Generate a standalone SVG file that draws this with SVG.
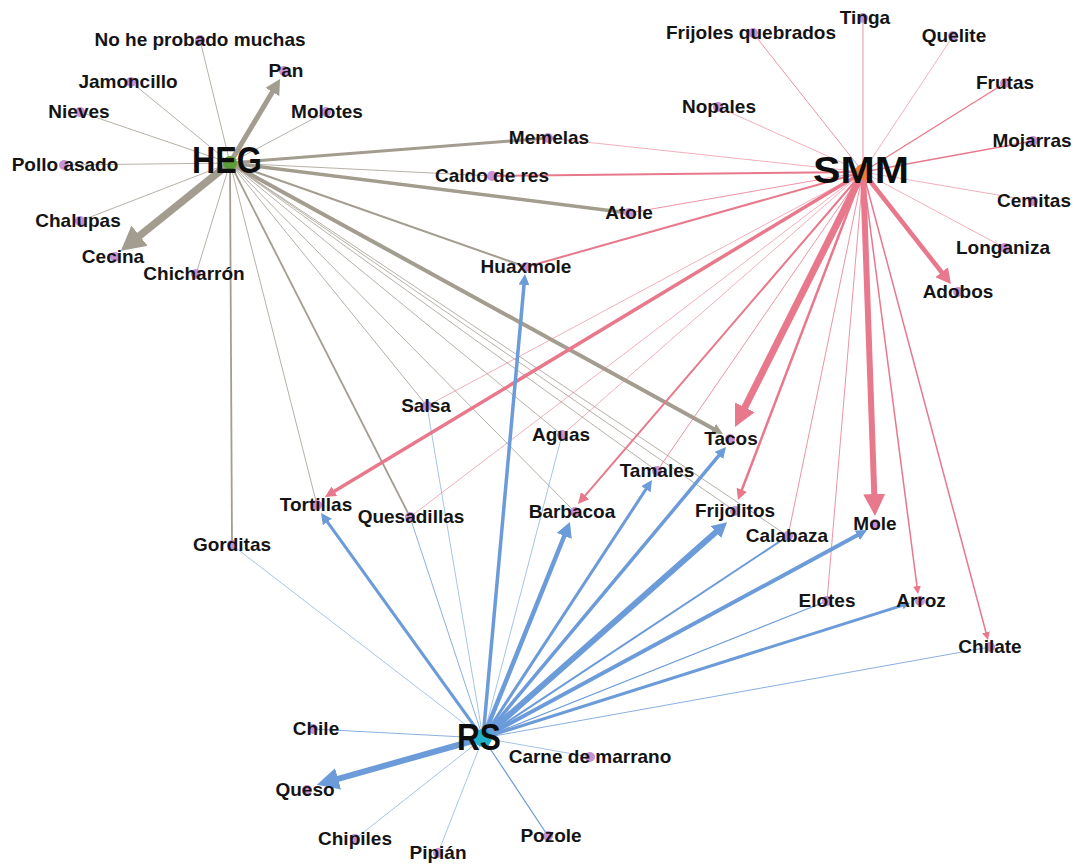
<svg xmlns="http://www.w3.org/2000/svg" width="1077" height="865" viewBox="0 0 1077 865">
<style>
.g{stroke:#a39d90;fill:none}
.p{stroke:#e8788b;fill:none}
.b{stroke:#6b9bd8;fill:none}
.t{font-family:"Liberation Sans",Arial,sans-serif;font-weight:bold;font-size:19px;fill:#141414;text-anchor:middle}
.h{font-family:"Liberation Sans",Arial,sans-serif;font-weight:bold;font-size:36px;fill:#0d0d0d;text-anchor:middle}
.d{fill:#c792d6}
</style>
<defs>
<marker id="gXL" markerUnits="userSpaceOnUse" viewBox="0 0 24 26" markerWidth="24" markerHeight="26" refX="1" refY="13" orient="auto"><path d="M0,0 L24,13 L0,26 z" fill="#a39d90"/></marker>
<marker id="gM" markerUnits="userSpaceOnUse" viewBox="0 0 15 16" markerWidth="15" markerHeight="16" refX="1" refY="8" orient="auto"><path d="M0,0 L15,8 L0,16 z" fill="#a39d90"/></marker>
<marker id="gS" markerUnits="userSpaceOnUse" viewBox="0 0 11 11" markerWidth="11" markerHeight="11" refX="1" refY="5.5" orient="auto"><path d="M0,0 L11,5.5 L0,11 z" fill="#a39d90"/></marker>
<marker id="pL" markerUnits="userSpaceOnUse" viewBox="0 0 22 22" markerWidth="22" markerHeight="22" refX="1" refY="11" orient="auto"><path d="M0,0 L22,11 L0,22 z" fill="#e8788b"/></marker>
<marker id="pM" markerUnits="userSpaceOnUse" viewBox="0 0 15 16" markerWidth="15" markerHeight="16" refX="1" refY="8" orient="auto"><path d="M0,0 L15,8 L0,16 z" fill="#e8788b"/></marker>
<marker id="pS" markerUnits="userSpaceOnUse" viewBox="0 0 11 11" markerWidth="11" markerHeight="11" refX="1" refY="5.5" orient="auto"><path d="M0,0 L11,5.5 L0,11 z" fill="#e8788b"/></marker>
<marker id="pXS" markerUnits="userSpaceOnUse" viewBox="0 0 8 8" markerWidth="8" markerHeight="8" refX="1" refY="4" orient="auto"><path d="M0,0 L8,4 L0,8 z" fill="#e8788b"/></marker>
<marker id="bL" markerUnits="userSpaceOnUse" viewBox="0 0 22 22" markerWidth="22" markerHeight="22" refX="1" refY="11" orient="auto"><path d="M0,0 L22,11 L0,22 z" fill="#6b9bd8"/></marker>
<marker id="bM" markerUnits="userSpaceOnUse" viewBox="0 0 15 16" markerWidth="15" markerHeight="16" refX="1" refY="8" orient="auto"><path d="M0,0 L15,8 L0,16 z" fill="#6b9bd8"/></marker>
<marker id="bS" markerUnits="userSpaceOnUse" viewBox="0 0 11 11" markerWidth="11" markerHeight="11" refX="1" refY="5.5" orient="auto"><path d="M0,0 L11,5.5 L0,11 z" fill="#6b9bd8"/></marker>
<marker id="bXS" markerUnits="userSpaceOnUse" viewBox="0 0 8 8" markerWidth="8" markerHeight="8" refX="1" refY="4" orient="auto"><path d="M0,0 L8,4 L0,8 z" fill="#6b9bd8"/></marker>
</defs>
<rect width="1077" height="865" fill="#ffffff"/>
<g id="connectors">
<!-- HEG -->
<line class="g" stroke-width="0.8" x1="230" y1="163" x2="200" y2="40"/>
<line class="g" stroke-width="0.8" x1="230" y1="163" x2="131" y2="82"/>
<line class="g" stroke-width="0.8" x1="230" y1="163" x2="80" y2="112"/>
<line class="g" stroke-width="0.8" x1="230" y1="163" x2="64" y2="165"/>
<line class="g" stroke-width="0.8" x1="230" y1="163" x2="80" y2="221"/>
<line class="g" stroke-width="0.8" x1="230" y1="163" x2="196" y2="274"/>
<line class="g" stroke-width="0.8" x1="230" y1="163" x2="326" y2="112"/>
<line class="g" stroke-width="3" x1="230" y1="163" x2="548" y2="138"/>
<line class="g" stroke-width="0.8" x1="230" y1="163" x2="492" y2="176"/>
<line class="g" stroke-width="3.5" x1="230" y1="163" x2="629" y2="213"/>
<line class="g" stroke-width="2" x1="230" y1="163" x2="526" y2="267"/>
<line class="g" stroke-width="1.8" x1="230" y1="163" x2="232" y2="545"/>
<line class="g" stroke-width="0.8" x1="230" y1="163" x2="317" y2="505"/>
<line class="g" stroke-width="1.8" x1="230" y1="163" x2="410" y2="517"/>
<line class="g" stroke-width="0.8" x1="230" y1="163" x2="427" y2="406"/>
<line class="g" stroke-width="0.8" x1="230" y1="163" x2="562" y2="435"/>
<line class="g" stroke-width="0.8" x1="230" y1="163" x2="575" y2="512"/>
<line class="g" stroke-width="0.8" x1="230" y1="163" x2="657" y2="471"/>
<line class="g" stroke-width="0.8" x1="230" y1="163" x2="735" y2="511"/>
<line class="g" stroke-width="0.8" x1="230" y1="163" x2="788" y2="536"/>
<line class="g" stroke-width="7.5" x1="230" y1="163" x2="138.8" y2="236.4" marker-end="url(#gXL)"/>
<line class="g" stroke-width="5" x1="230" y1="163" x2="272.9" y2="91.1" marker-end="url(#gM)"/>
<line class="g" stroke-width="4" x1="230" y1="163" x2="714.2" y2="429.2" marker-end="url(#gS)"/>
<!-- SMM -->
<line class="p" stroke-width="0.8" x1="863" y1="172" x2="753" y2="33"/>
<line class="p" stroke-width="0.8" x1="863" y1="172" x2="863" y2="18"/>
<line class="p" stroke-width="0.6" x1="863" y1="172" x2="953" y2="36"/>
<line class="p" stroke-width="1.3" x1="863" y1="172" x2="1005" y2="83"/>
<line class="p" stroke-width="1.3" x1="863" y1="172" x2="1033" y2="141"/>
<line class="p" stroke-width="0.6" x1="863" y1="172" x2="1033" y2="201"/>
<line class="p" stroke-width="0.6" x1="863" y1="172" x2="1005" y2="248"/>
<line class="p" stroke-width="0.6" x1="863" y1="172" x2="718" y2="107"/>
<line class="p" stroke-width="0.6" x1="863" y1="172" x2="548" y2="138"/>
<line class="p" stroke-width="2" x1="863" y1="172" x2="492" y2="176"/>
<line class="p" stroke-width="0.8" x1="863" y1="172" x2="629" y2="213"/>
<line class="p" stroke-width="2" x1="863" y1="172" x2="526" y2="267"/>
<line class="p" stroke-width="0.6" x1="863" y1="172" x2="427" y2="406"/>
<line class="p" stroke-width="0.6" x1="863" y1="172" x2="410" y2="517"/>
<line class="p" stroke-width="0.6" x1="863" y1="172" x2="562" y2="435"/>
<line class="p" stroke-width="0.8" x1="863" y1="172" x2="657" y2="471"/>
<line class="p" stroke-width="0.8" x1="863" y1="172" x2="788" y2="536"/>
<line class="p" stroke-width="0.8" x1="863" y1="172" x2="827" y2="601"/>
<line class="p" stroke-width="4.5" x1="863" y1="172" x2="942.3" y2="273" marker-end="url(#pM)"/>
<line class="p" stroke-width="7" x1="863" y1="172" x2="744.4" y2="408.2" marker-end="url(#pL)"/>
<line class="p" stroke-width="6" x1="863" y1="172" x2="874.3" y2="495" marker-end="url(#pL)"/>
<line class="p" stroke-width="3.5" x1="863" y1="172" x2="333.5" y2="491.8" marker-end="url(#pS)"/>
<line class="p" stroke-width="2" x1="863" y1="172" x2="584.5" y2="496.4" marker-end="url(#pS)"/>
<line class="p" stroke-width="2.5" x1="863" y1="172" x2="741.5" y2="490.7" marker-end="url(#pS)"/>
<line class="p" stroke-width="1.5" x1="863" y1="172" x2="917.1" y2="587.1" marker-end="url(#pXS)"/>
<line class="p" stroke-width="1.5" x1="863" y1="172" x2="986.2" y2="633.2" marker-end="url(#pXS)"/>
<!-- RS -->
<line class="b" stroke-width="0.8" x1="483" y1="738" x2="313" y2="729"/>
<line class="b" stroke-width="0.6" x1="483" y1="738" x2="355" y2="839"/>
<line class="b" stroke-width="0.6" x1="483" y1="738" x2="438" y2="853"/>
<line class="b" stroke-width="1.2" x1="483" y1="738" x2="548" y2="836"/>
<line class="b" stroke-width="0.6" x1="483" y1="738" x2="590" y2="757"/>
<line class="b" stroke-width="0.6" x1="483" y1="738" x2="232" y2="545"/>
<line class="b" stroke-width="0.8" x1="483" y1="738" x2="410" y2="517"/>
<line class="b" stroke-width="0.6" x1="483" y1="738" x2="427" y2="406"/>
<line class="b" stroke-width="0.6" x1="483" y1="738" x2="562" y2="435"/>
<line class="b" stroke-width="2" x1="483" y1="738" x2="788" y2="536"/>
<line class="b" stroke-width="1.2" x1="483" y1="738" x2="827" y2="601"/>
<line class="b" stroke-width="0.8" x1="483" y1="738" x2="990" y2="647"/>
<line class="b" stroke-width="6" x1="483" y1="738" x2="337.1" y2="779.1" marker-end="url(#bL)"/>
<line class="b" stroke-width="3" x1="483" y1="738" x2="326.8" y2="521.2" marker-end="url(#bS)"/>
<line class="b" stroke-width="3.5" x1="483" y1="738" x2="524.1" y2="284" marker-end="url(#bS)"/>
<line class="b" stroke-width="4.5" x1="483" y1="738" x2="564.7" y2="535" marker-end="url(#bM)"/>
<line class="b" stroke-width="3" x1="483" y1="738" x2="646.5" y2="488.4" marker-end="url(#bS)"/>
<line class="b" stroke-width="3.5" x1="483" y1="738" x2="719.6" y2="454.7" marker-end="url(#bS)"/>
<line class="b" stroke-width="6" x1="483" y1="738" x2="716.6" y2="531.4" marker-end="url(#bM)"/>
<line class="b" stroke-width="4" x1="483" y1="738" x2="858.2" y2="534.8" marker-end="url(#bS)"/>
<line class="b" stroke-width="3" x1="483" y1="738" x2="903.3" y2="605.1" marker-end="url(#bXS)"/>
</g>
<g id="n-no-he-probado"><circle class="d" cx="200" cy="40" r="5"/><text class="t" x="200" y="46">No he probado muchas</text></g>
<g id="n-pan"><circle class="d" cx="284" cy="71" r="5"/><text class="t" x="286" y="77">Pan</text></g>
<g id="n-jamoncillo"><circle class="d" cx="131" cy="82" r="5"/><text class="t" x="128" y="88">Jamoncillo</text></g>
<g id="n-molotes"><circle class="d" cx="326" cy="112" r="5"/><text class="t" x="327" y="118">Molotes</text></g>
<g id="n-nieves"><circle class="d" cx="80" cy="112" r="5"/><text class="t" x="79" y="118">Nieves</text></g>
<g id="n-pollo-asado"><circle class="d" cx="64" cy="165" r="5"/><text class="t" x="65" y="171">Pollo asado</text></g>
<g id="n-chalupas"><circle class="d" cx="80" cy="221" r="5"/><text class="t" x="78" y="227">Chalupas</text></g>
<g id="n-cecina"><circle class="d" cx="115" cy="257" r="5"/><text class="t" x="113" y="263">Cecina</text></g>
<g id="n-chicharron"><circle class="d" cx="196" cy="274" r="5"/><text class="t" x="194" y="280">Chicharrón</text></g>
<g id="n-memelas"><circle class="d" cx="548" cy="138" r="5"/><text class="t" x="549" y="144">Memelas</text></g>
<g id="n-caldo"><circle class="d" cx="492" cy="176" r="5"/><text class="t" x="492" y="182">Caldo de res</text></g>
<g id="n-atole"><circle class="d" cx="629" cy="213" r="5"/><text class="t" x="629" y="219">Atole</text></g>
<g id="n-huaxmole"><circle class="d" cx="526" cy="267" r="5"/><text class="t" x="526" y="273">Huaxmole</text></g>
<g id="n-frijoles-quebrados"><circle class="d" cx="753" cy="33" r="5"/><text class="t" x="751" y="39">Frijoles quebrados</text></g>
<g id="n-tinga"><circle class="d" cx="863" cy="18" r="5"/><text class="t" x="865" y="24">Tinga</text></g>
<g id="n-quelite"><circle class="d" cx="953" cy="36" r="5"/><text class="t" x="954" y="42">Quelite</text></g>
<g id="n-frutas"><circle class="d" cx="1005" cy="83" r="5"/><text class="t" x="1005" y="89">Frutas</text></g>
<g id="n-nopales"><circle class="d" cx="718" cy="107" r="5"/><text class="t" x="719" y="113">Nopales</text></g>
<g id="n-mojarras"><circle class="d" cx="1033" cy="141" r="5"/><text class="t" x="1032" y="147">Mojarras</text></g>
<g id="n-cemitas"><circle class="d" cx="1033" cy="201" r="5"/><text class="t" x="1034" y="207">Cemitas</text></g>
<g id="n-longaniza"><circle class="d" cx="1005" cy="248" r="5"/><text class="t" x="1003" y="254">Longaniza</text></g>
<g id="n-adobos"><circle class="d" cx="958" cy="292" r="5"/><text class="t" x="958" y="298">Adobos</text></g>
<g id="n-salsa"><circle class="d" cx="427" cy="406" r="5"/><text class="t" x="426" y="412">Salsa</text></g>
<g id="n-aguas"><circle class="d" cx="562" cy="435" r="5"/><text class="t" x="561" y="441">Aguas</text></g>
<g id="n-tacos"><circle class="d" cx="730" cy="439" r="5"/><text class="t" x="731" y="445">Tacos</text></g>
<g id="n-tamales"><circle class="d" cx="657" cy="471" r="5"/><text class="t" x="657" y="477">Tamales</text></g>
<g id="n-tortillas"><circle class="d" cx="317" cy="505" r="5"/><text class="t" x="316" y="511">Tortillas</text></g>
<g id="n-quesadillas"><circle class="d" cx="410" cy="517" r="5"/><text class="t" x="411" y="523">Quesadillas</text></g>
<g id="n-barbacoa"><circle class="d" cx="575" cy="512" r="5"/><text class="t" x="572" y="518">Barbacoa</text></g>
<g id="n-frijolitos"><circle class="d" cx="735" cy="511" r="5"/><text class="t" x="735" y="517">Frijolitos</text></g>
<g id="n-calabaza"><circle class="d" cx="788" cy="536" r="5"/><text class="t" x="787" y="542">Calabaza</text></g>
<g id="n-mole"><circle class="d" cx="875" cy="524" r="5"/><text class="t" x="875" y="530">Mole</text></g>
<g id="n-gorditas"><circle class="d" cx="232" cy="545" r="5"/><text class="t" x="232" y="551">Gorditas</text></g>
<g id="n-elotes"><circle class="d" cx="827" cy="601" r="5"/><text class="t" x="827" y="607">Elotes</text></g>
<g id="n-arroz"><circle class="d" cx="920" cy="601" r="5"/><text class="t" x="921" y="607">Arroz</text></g>
<g id="n-chilate"><circle class="d" cx="990" cy="647" r="5"/><text class="t" x="990" y="653">Chilate</text></g>
<g id="n-chile"><circle class="d" cx="313" cy="729" r="5"/><text class="t" x="316" y="735">Chile</text></g>
<g id="n-carne"><circle class="d" cx="590" cy="757" r="5"/><text class="t" x="590" y="763">Carne de marrano</text></g>
<g id="n-queso"><circle class="d" cx="307" cy="790" r="5"/><text class="t" x="305" y="796">Queso</text></g>
<g id="n-chipiles"><circle class="d" cx="355" cy="839" r="5"/><text class="t" x="355" y="845">Chipiles</text></g>
<g id="n-pipian"><circle class="d" cx="438" cy="853" r="5"/><text class="t" x="438" y="859">Pipián</text></g>
<g id="n-pozole"><circle class="d" cx="548" cy="836" r="5"/><text class="t" x="551" y="842">Pozole</text></g>
<g id="n-heg"><circle cx="230" cy="163" r="7" fill="#5b9e35"/><text class="h" x="227" y="173" textLength="70" lengthAdjust="spacingAndGlyphs">HEG</text></g>
<g id="n-smm"><circle cx="863" cy="172" r="8" fill="#ee7d35"/><text class="h" x="861" y="183" textLength="96" lengthAdjust="spacingAndGlyphs">SMM</text></g>
<g id="n-rs"><circle cx="483" cy="738" r="9" fill="#20b0c8"/><text class="h" x="479" y="750" textLength="44" lengthAdjust="spacingAndGlyphs">RS</text></g>
</svg>
